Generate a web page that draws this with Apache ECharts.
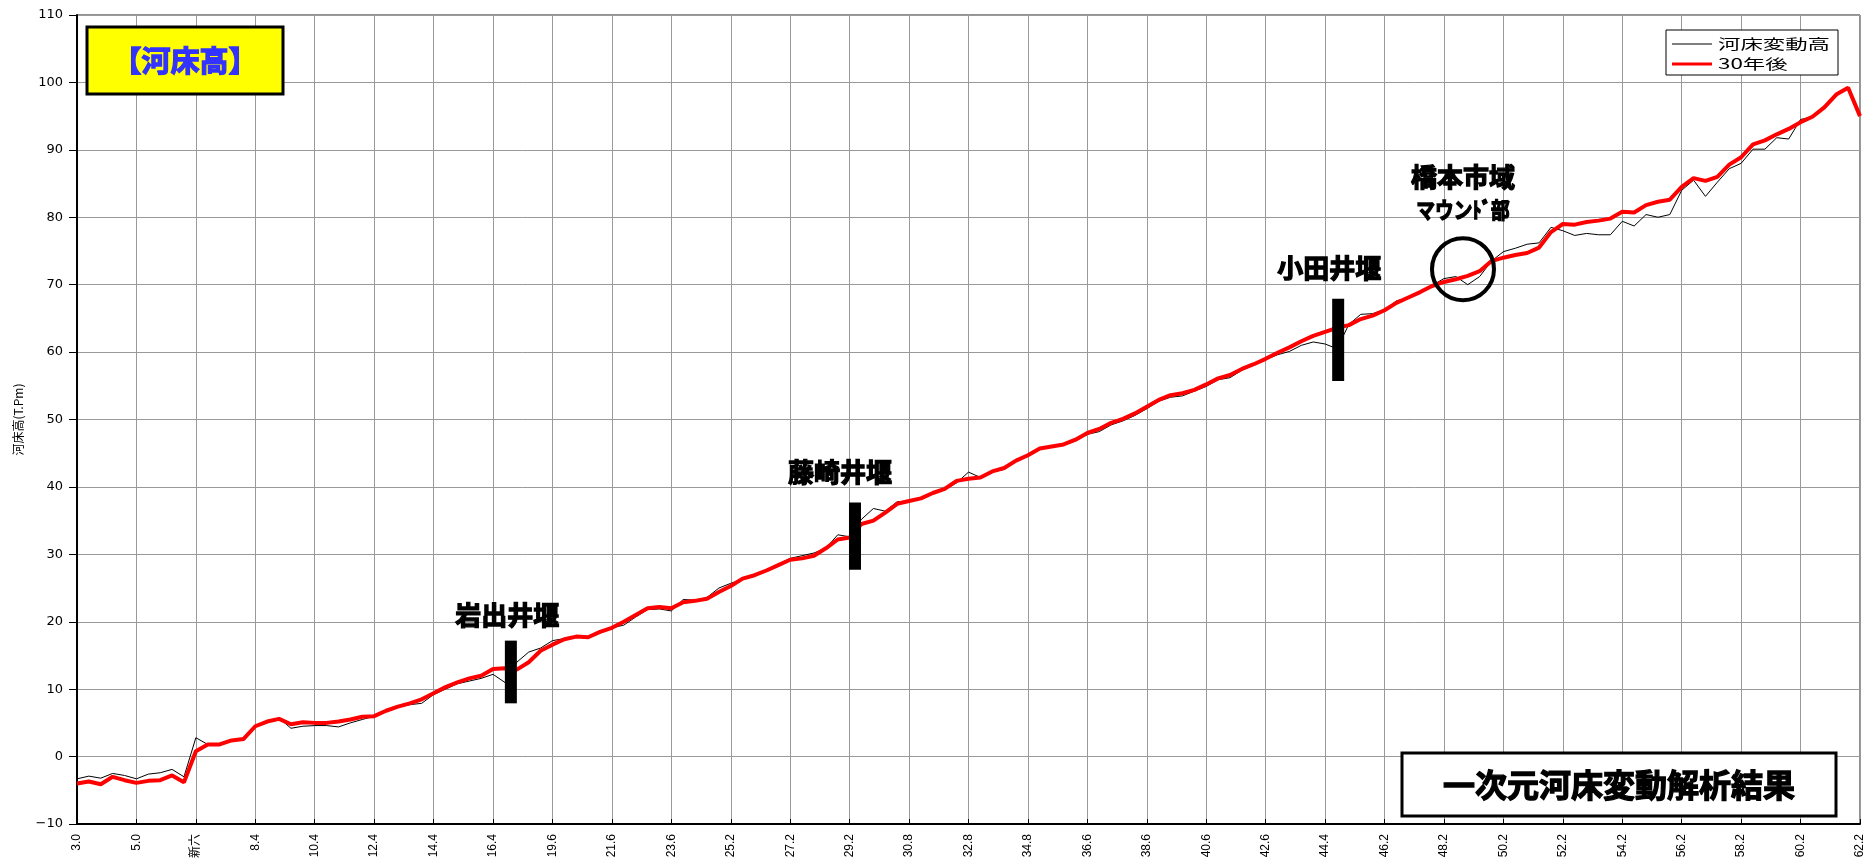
<!DOCTYPE html>
<html>
<head>
<meta charset="utf-8">
<script src="https://cdn.jsdelivr.net/npm/echarts@6/dist/echarts.min.js"></script>
<style>
  html, body { margin: 0; padding: 0; background: #ffffff; }
  #chart { width: 1868px; height: 858px; }
</style>
</head>
<body>
<div id="chart"></div>
<script>
// Distance markers along the river (km); one label per major grid line
const tickLabels = ['3.0', '5.0', '新六', '8.4', '10.4', '12.4', '14.4', '16.4', '19.6', '21.6',
  '23.6', '25.2', '27.2', '29.2', '30.8', '32.8', '34.8', '36.6', '38.6', '40.6',
  '42.6', '44.4', '46.2', '48.2', '50.2', '52.2', '54.2', '56.2', '58.2', '60.2', '62.2'];

// Riverbed elevation (T.P. m), five sections per labelled interval
const bedCurrent = [
  -3.3, -2.9, -3.2, -2.5, -2.8, -3.3, -2.6, -2.4, -1.9, -3.0,
   2.8,  1.8,  1.8,  2.3,  2.5,  4.5,  5.3,  5.7,  4.2,  4.5,
   4.6,  4.6,  4.4,  5.0,  5.5,  6.0,  6.7,  7.3,  7.7,  7.9,
   9.2, 10.0, 10.8, 11.2, 11.6, 12.2, 11.0, 14.0, 15.5, 16.1,
  17.2, 17.5, 17.8, 17.7, 18.6, 19.1, 19.5, 20.7, 21.8, 21.9,
  21.6, 23.3, 23.2, 23.6, 25.0, 25.7, 26.3, 26.8, 27.6, 28.5,
  29.4, 29.8, 30.2, 30.9, 32.9, 32.6, 35.2, 36.8, 36.4, 37.8,
  37.9, 38.3, 39.0, 39.6, 40.6, 42.2, 41.4, 42.2, 42.6, 43.8,
  44.6, 45.6, 45.9, 46.2, 46.8, 47.8, 48.2, 49.2, 49.8, 50.6,
  51.6, 52.7, 53.3, 53.5, 54.2, 54.9, 55.9, 56.2, 57.3, 58.1,
  58.9, 59.6, 60.1, 61.0, 61.5, 61.2, 60.5, 64.1, 65.6, 65.7,
  66.3, 67.6, 68.0, 68.8, 69.9, 70.9, 71.2, 70.0, 71.2, 73.5,
  74.9, 75.4, 76.0, 76.2, 78.5, 78.0, 77.3, 77.6, 77.4, 77.4,
  79.4, 78.7, 80.4, 80.0, 80.4, 84.0, 85.5, 83.1, 85.2, 87.2,
  88.0, 90.1, 90.1, 91.8, 91.6, 94.5, 94.9, 96.5, 98.4, 99.3,
  95.3
];

// Riverbed elevation after 30 years of simulated change (T.P. m)
const bed30Years = [
  -4.0, -3.7, -4.1, -3.0, -3.5, -3.9, -3.6, -3.5, -2.8, -3.8,
   0.8,  1.8,  1.8,  2.4,  2.6,  4.5,  5.2,  5.6,  4.8,  5.1,
   5.0,  5.0,  5.2,  5.5,  5.9,  6.0,  6.8,  7.4,  7.9,  8.5,
   9.4, 10.3, 11.0, 11.6, 12.0, 13.0, 13.1, 12.9, 14.0, 15.7,
  16.6, 17.4, 17.8, 17.7, 18.5, 19.1, 20.0, 21.0, 22.0, 22.2,
  22.0, 22.9, 23.1, 23.4, 24.4, 25.3, 26.4, 26.9, 27.6, 28.4,
  29.2, 29.4, 29.8, 30.9, 32.2, 32.5, 34.5, 35.0, 36.2, 37.5,
  37.9, 38.3, 39.1, 39.7, 40.9, 41.2, 41.4, 42.3, 42.8, 43.9,
  44.7, 45.7, 46.0, 46.3, 47.0, 48.0, 48.6, 49.5, 50.1, 50.9,
  51.9, 52.9, 53.6, 53.9, 54.4, 55.2, 56.1, 56.6, 57.5, 58.2,
  59.0, 59.9, 60.7, 61.6, 62.4, 63.0, 63.6, 64.0, 64.9, 65.4,
  66.2, 67.3, 68.1, 68.9, 69.8, 70.4, 70.8, 71.3, 72.0, 73.5,
  74.0, 74.4, 74.7, 75.5, 77.8, 79.0, 78.9, 79.3, 79.5, 79.8,
  80.8, 80.7, 81.8, 82.3, 82.6, 84.5, 85.8, 85.4, 86.0, 87.8,
  88.9, 90.8, 91.4, 92.3, 93.1, 94.1, 94.9, 96.3, 98.2, 99.2,
  95.0
];

// Weirs: position along the axis (interval units) and extent of the marker (T.P. m)
const weirNames = ['岩出井堰', '藤崎井堰', '小田井堰'];
const weirPos = [7.30, 13.09, 21.22];
const weirTop = [17.2, 37.7, 67.9];
const weirBottom = [7.9, 27.7, 55.7];
const weirLabelPos = [7.24, 12.84, 21.07];
const weirLabelLevel = [21.0, 42.2, 72.5];

// Mound section in the Hashimoto city reach
const moundPos = 23.32;
const moundLevel = 72.3;
const moundLabels = ['橋本市域', 'マウンﾄﾞ部'];
const moundLabelLevels = [86.0, 81.2];

const seriesNames = ['河床変動高', '30年後'];

const step = (tickLabels.length - 1) / (bedCurrent.length - 1);
const toPoints = arr => arr.map((v, i) => [i * step, v]);

const chart = echarts.init(document.getElementById('chart'), null, { renderer: 'canvas' });

const CJK = '"Noto Sans CJK JP", "Noto Sans", sans-serif';

chart.setOption({
  animation: false,
  backgroundColor: '#ffffff',
  grid: {
    left: 77, right: 8, top: 15, bottom: 34,
    containLabel: false, outerBoundsMode: 'none',
    show: true, borderColor: '#222', borderWidth: 1, backgroundColor: 'transparent'
  },
  xAxis: {
    type: 'value',
    min: 0, max: tickLabels.length - 1, interval: 1,
    axisLine: { onZero: false, lineStyle: { color: '#000', width: 2 } },
    axisTick: { inside: true, length: 5, lineStyle: { color: '#000' } },
    axisLabel: {
      rotate: 90, margin: 10, fontSize: 12, color: '#000',
      fontFamily: '"Liberation Sans", ' + CJK,
      formatter: v => tickLabels[Math.round(v)] || ''
    },
    splitLine: { show: true, lineStyle: { color: '#9a9a9a', width: 1 } }
  },
  yAxis: {
    type: 'value',
    min: -10, max: 110, interval: 10,
    name: '河床高(T.Pm)',
    nameLocation: 'middle', nameRotate: 90, nameGap: 50,
    nameTextStyle: { fontSize: 12, color: '#000', fontFamily: CJK },
    axisLine: { lineStyle: { color: '#000', width: 2 } },
    axisTick: { show: true, inside: false, length: 8, lineStyle: { color: '#000' } },
    axisLabel: {
      margin: 14, fontSize: 13, color: '#000', fontFamily: '"DejaVu Sans", sans-serif',
      formatter: v => (v < 0 ? '\u2212' + Math.abs(v) : String(v))
    },
    splitLine: { show: true, lineStyle: { color: '#9a9a9a', width: 1 } }
  },
  series: [
    {
      name: seriesNames[0], type: 'line', data: toPoints(bedCurrent),
      showSymbol: false, symbol: 'none', silent: true,
      lineStyle: { color: '#000000', width: 1 }, z: 2
    },
    {
      name: seriesNames[1], type: 'line', data: toPoints(bed30Years),
      showSymbol: false, symbol: 'none', silent: true,
      lineStyle: { color: '#ff0000', width: 4 }, z: 3
    }
  ]
});

// Annotations placed through the grid's coordinate system
const toPx = (x, y) => chart.convertToPixel({ gridIndex: 0 }, [x, y]);
const graphics = [];

// Heavy caption text: bold face plus a thin outline in the same colour
const heavyText = (x, y, text, size, color, scaleX) => ({
  type: 'text', z: 101, x: x, y: y, scaleX: scaleX || 1,
  style: {
    text: text, fill: color, stroke: color, lineWidth: 1.3,
    font: 'bold ' + size + 'px ' + CJK,
    align: 'center', verticalAlign: 'middle'
  }
});

weirNames.forEach((name, i) => {
  const top = toPx(weirPos[i], weirTop[i]);
  const bottom = toPx(weirPos[i], weirBottom[i]);
  graphics.push({
    type: 'rect', z: 100,
    shape: { x: top[0] - 6, y: top[1], width: 12, height: bottom[1] - top[1] },
    style: { fill: '#000' }
  });
  const lp = toPx(weirLabelPos[i], weirLabelLevel[i]);
  graphics.push(heavyText(lp[0], lp[1], name, 26, '#000'));
});

const mc = toPx(moundPos, moundLevel);
graphics.push({
  type: 'circle', z: 100,
  shape: { cx: mc[0], cy: mc[1], r: 31 },
  style: { fill: 'none', stroke: '#000', lineWidth: 4 }
});
moundLabels.forEach((t, i) => {
  const p = toPx(moundPos, moundLabelLevels[i]);
  graphics.push(heavyText(p[0], p[1], t, i === 0 ? 26 : 22, '#000', i === 1 ? 0.85 : 1));
});

// Title panel
graphics.push({
  type: 'rect', z: 100,
  shape: { x: 87, y: 27, width: 196, height: 67 },
  style: { fill: '#ffff00', stroke: '#000', lineWidth: 3 }
});
graphics.push(heavyText(185, 61, '【河床高】', 29, '#3333ff'));

// Result caption panel
graphics.push({
  type: 'rect', z: 100,
  shape: { x: 1402, y: 753, width: 434, height: 63 },
  style: { fill: '#fff', stroke: '#000', lineWidth: 3 }
});
graphics.push(heavyText(1619, 785, '一次元河床変動解析結果', 32, '#000'));

// Legend panel
const legendColors = ['#000000', '#ff0000'];
const legendWidths = [1, 3];
graphics.push({
  type: 'rect', z: 100,
  shape: { x: 1666, y: 30, width: 172, height: 45 },
  style: { fill: '#fff', stroke: '#000', lineWidth: 1 }
});
seriesNames.forEach((n, i) => {
  const y = 44 + i * 20;
  graphics.push({
    type: 'line', z: 101,
    shape: { x1: 1672, y1: y, x2: 1712, y2: y },
    style: { stroke: legendColors[i], lineWidth: legendWidths[i] }
  });
  graphics.push({
    type: 'text', z: 101, x: 1718, y: y, scaleX: 1.6,
    style: {
      text: n, fill: '#000', font: '14px ' + CJK,
      align: 'left', verticalAlign: 'middle'
    }
  });
});

chart.setOption({ graphic: graphics });
</script>
</body>
</html>
